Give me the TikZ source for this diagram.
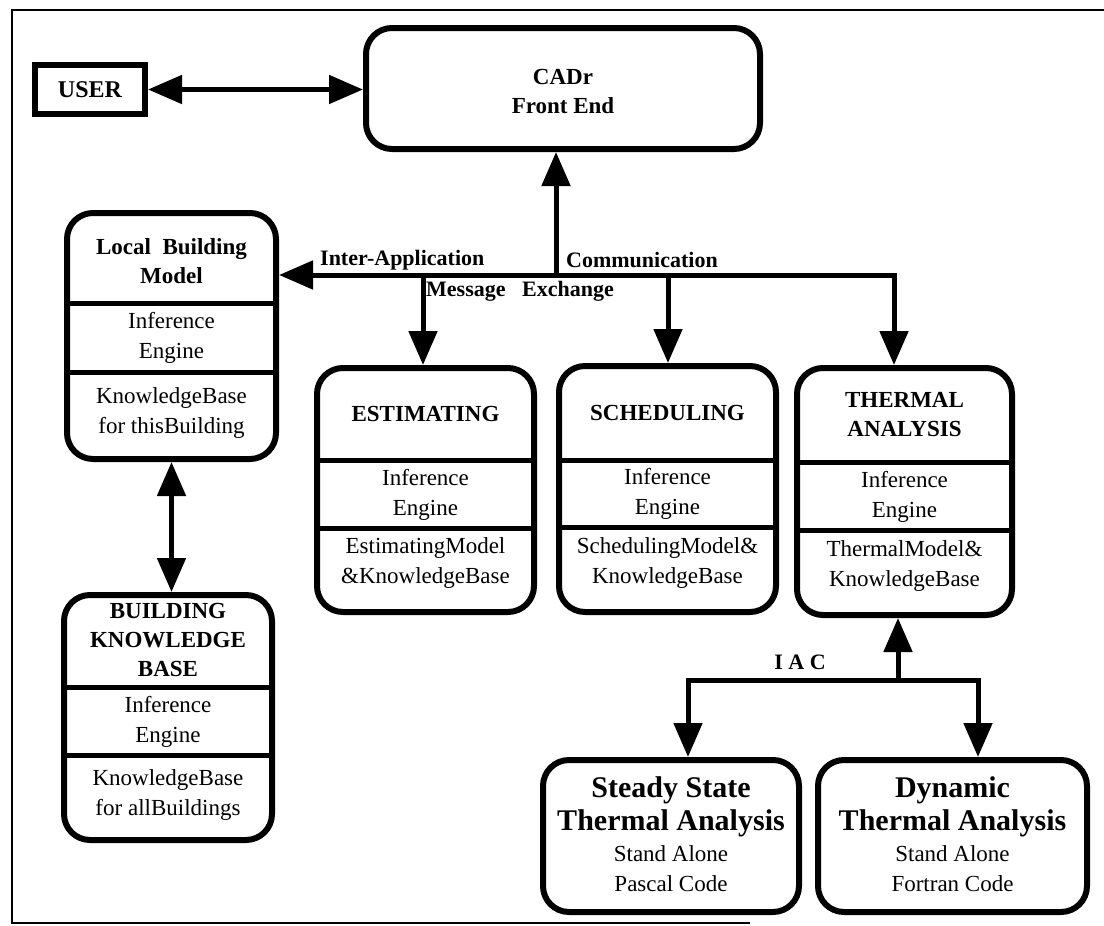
\documentclass[tikz,border=0pt]{standalone}
\usepackage{fontspec}
\setmainfont{Liberation Serif}
\usetikzlibrary{arrows.meta, calc, positioning}

\begin{document}
\begin{tikzpicture}[x=1pt, y=-1pt,
    >={Triangle[length=34pt, width=28pt]},
    box/.style={draw, line width=6pt, rounded corners=26pt, inner sep=0pt},
    txt/.style={align=center, inner sep=0pt, font=\fontsize{23}{30}\selectfont},
    ttl/.style={align=center, inner sep=0pt, font=\fontsize{23}{29}\selectfont\bfseries},
    big/.style={align=center, inner sep=0pt, font=\fontsize{30}{33}\selectfont\bfseries},
    lbl/.style={inner sep=0pt, font=\fontsize{22}{26}\selectfont\bfseries},
    sep/.style={line width=5pt, shorten <=3pt, shorten >=3pt},
    link/.style={line width=5pt, ->},
    bilink/.style={line width=5pt, <->}]

    \useasboundingbox (0,0) rectangle (1104,926);

    % ==========================================
    % Cornice esterna
    % ==========================================
    \draw[line width=2.5pt] (1104,10) -- (12,10) -- (12,923) -- (750,923);

    % ==========================================
    % In alto: utente e front end
    % ==========================================
    \node[draw, line width=6pt, minimum width=110pt, minimum height=49pt] (user) at (90,89.5)
        {\fontsize{24}{28}\selectfont\bfseries USER};
    \node[box, minimum width=394pt, minimum height=121pt] (cadr) at (563,88.5) {};
    \node[ttl] (cadr-t) at (563,91) {CADr\\Front End};

    \draw[bilink] (user.east) -- (user.east -| cadr.west);

    % ==========================================
    % Scatole delle applicazioni
    % ==========================================
    \node[box, minimum width=209pt, minimum height=246pt] (local) at (171.5,336) {};
    \node[box, minimum width=208pt, minimum height=245pt] (bkb) at (168,717.5) {};
    \node[box, minimum width=217pt, minimum height=244pt] (est) at (425.5,490) {};
    \node[box, minimum width=217pt, minimum height=246pt] (sched) at (667.5,489) {};
    \node[box, minimum width=215pt, minimum height=247pt] (therm) at (904.5,491.5) {};

    % separatori interni (titolo / motore / base)
    \foreach \b/\ya/\yb in {local/303/372, bkb/687/755, est/460/528, sched/460/527, therm/462/530}{
        \coordinate (ya) at (0,\ya);
        \coordinate (yb) at (0,\yb);
        \draw[sep] (\b.west |- ya) -- (\b.east |- ya);
        \draw[sep] (\b.west |- yb) -- (\b.east |- yb);
    }

    % testi
    \node[ttl] (local-t) at (171.5,261) {Local\ \ Building\\Model};
    \node[txt] (local-ie) at (171.5,338) {Inference\\Engine};
    \node[txt] (local-kb) at (171.5,413) {KnowledgeBase\\for thisBuilding};

    \node[ttl] (bkb-t) at (168,640) {BUILDING\\KNOWLEDGE\\BASE};
    \node[txt] (bkb-ie) at (168,722) {Inference\\Engine};
    \node[txt] (bkb-kb) at (168,795) {KnowledgeBase\\for allBuildings};

    \node[ttl] (est-t) at (425.5,414) {ESTIMATING};
    \node[txt] (est-ie) at (425.5,495) {Inference\\Engine};
    \node[txt] (est-kb) at (425.5,563) {EstimatingModel\\\&KnowledgeBase};

    \node[ttl] (sched-t) at (667.5,413) {SCHEDULING};
    \node[txt] (sched-ie) at (667.5,494) {Inference\\Engine};
    \node[txt] (sched-kb) at (667.5,563) {SchedulingModel\&\\KnowledgeBase};

    \node[ttl] (therm-t) at (904.5,415) {THERMAL\\ANALYSIS};
    \node[txt] (therm-ie) at (904.5,497) {Inference\\Engine};
    \node[txt] (therm-kb) at (904.5,566) {ThermalModel\&\\KnowledgeBase};

    % ==========================================
    % Scambio di messaggi fra applicazioni
    % ==========================================
    \coordinate (hub) at (556,275);
    \coordinate (busend) at (894,275);
    \coordinate (drop-est) at (423,275);
    \coordinate (drop-sched) at (668,275);

    \draw[link] (hub) -- (hub |- cadr.south);
    \draw[bilink] (busend |- therm.north) -- (busend) -- (hub -| local.east);
    \draw[link] (drop-est) -- (drop-est |- est.north);
    \draw[link] (drop-sched) -- (drop-sched |- sched.north);
    \draw[bilink] (local.south) -- (local.south |- bkb.north);

    \node[lbl, anchor=west] (lbl-inter) at (320,260) {Inter-Application};
    \node[lbl, anchor=west] (lbl-comm) at (566,260) {Communication};
    \node[lbl, anchor=west] (lbl-msg) at (426,291) {Message\ \ \ Exchange};

    % ==========================================
    % In basso: programmi di analisi termica
    % ==========================================
    \node[box, minimum width=256pt, minimum height=152pt] (steady) at (671,836) {};
    \node[big] (steady-t) at (671,807) {Steady State\\Thermal Analysis};
    \node[txt] (steady-s) at (671,869) {Stand Alone\\Pascal Code};

    \node[box, minimum width=269pt, minimum height=152pt] (dyn) at (952.5,836) {};
    \node[big] (dyn-t) at (952.5,807) {Dynamic\\Thermal Analysis};
    \node[txt] (dyn-s) at (952.5,869) {Stand Alone\\Fortran Code};

    \coordinate (iac) at (898,680);
    \coordinate (iac-l) at (688,680);
    \coordinate (iac-r) at (978,680);

    \draw[link] (iac) -- (iac |- therm.south);
    \draw[bilink] (iac-l |- steady.north) -- (iac-l) -- (iac-r) -- (iac-r |- dyn.north);
    \node[lbl] (lbl-iac) at (800,662) {I A C};

\end{tikzpicture}
\end{document}
